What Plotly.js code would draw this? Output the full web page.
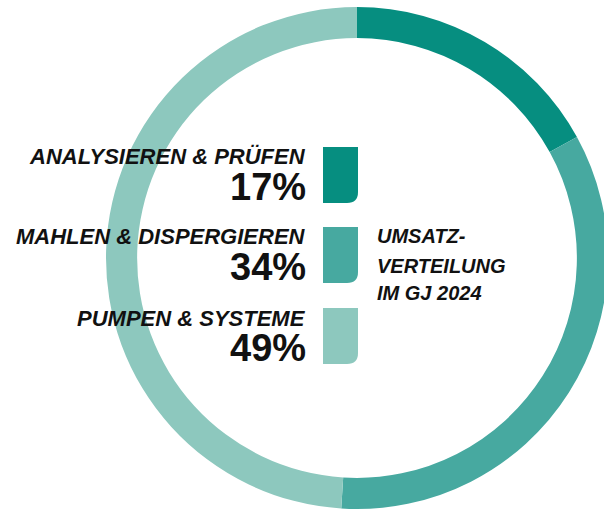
<!DOCTYPE html>
<html>
<head>
<meta charset="utf-8">
<script src="https://cdn.plot.ly/plotly-3.0.1.min.js"></script>
<style>
html,body{margin:0;padding:0;overflow:hidden;background:#fff;width:604px;height:511px;}
#chart{width:620px;height:511px;}
</style>
</head>
<body>
<div id="chart"></div>
<script>
// Data
const categories = ["ANALYSIEREN & PRÜFEN", "MAHLEN & DISPERGIEREN", "PUMPEN & SYSTEME"];
const shares = [17, 34, 49];
const percentLabels = ["17%", "34%", "49%"];
const colors = ["#068E80", "#47A9A0", "#8DC8BE"];
const centerLines = ["UMSATZ-", "VERTEILUNG", "IM GJ 2024"];

const W = 620, H = 511;
const px = x => x / W;
const py = y => 1 - y / H;

const trace = {
  type: "pie",
  values: shares,
  labels: categories,
  marker: {colors: colors, line: {width: 0}},
  sort: false,
  direction: "clockwise",
  rotation: 0,
  hole: 0.876,
  textinfo: "none",
  hoverinfo: "none",
  showlegend: false,
  domain: {x: [px(106), px(608)], y: [py(509), py(7)]}
};

const labelFont = {family: "Liberation Sans, Arial, sans-serif", size: 22, color: "#111"};
const pctFont = {family: "Liberation Sans, Arial, sans-serif", size: 38, color: "#111"};

const annotations = [];
const shapes = [];
const rowTop = [147, 227, 308];
const rowH = 56;
categories.forEach((c, i) => {
  const t = rowTop[i];
  annotations.push({
    text: "<b><i>" + c + "</i></b>", xref: "paper", yref: "paper",
    x: px(308), y: py(t + 10), xanchor: "right", yanchor: "middle",
    showarrow: false, font: labelFont
  });
  annotations.push({
    text: "<b>" + percentLabels[i] + "</b>", xref: "paper", yref: "paper",
    x: px(308), y: py(t + 40), xanchor: "right", yanchor: "middle",
    showarrow: false, font: pctFont
  });
  const x0 = 323, x1 = 358, y0 = t, y1 = t + rowH, r = 11;
  const path = `M ${px(x0)} ${py(y0)} L ${px(x1)} ${py(y0)} L ${px(x1)} ${py(y1 - r)} ` +
    `Q ${px(x1)} ${py(y1)} ${px(x1 - r)} ${py(y1)} L ${px(x0)} ${py(y1)} Z`;
  shapes.push({type: "path", xref: "paper", yref: "paper", path: path,
    fillcolor: colors[i], line: {width: 0}});
});

const centerY = [235.5, 266, 293];
centerLines.forEach((s, i) => {
  annotations.push({
    text: "<b><i>" + s + "</i></b>", xref: "paper", yref: "paper",
    x: px(375), y: py(centerY[i]), xanchor: "left", yanchor: "middle",
    showarrow: false, font: {family: "Liberation Sans, Arial, sans-serif", size: 20, color: "#111"}
  });
});

const layout = {
  width: W, height: H,
  margin: {l: 0, r: 0, t: 0, b: 0},
  paper_bgcolor: "#fff",
  showlegend: false,
  annotations: annotations,
  shapes: shapes
};

Plotly.newPlot("chart", [trace], layout, {displayModeBar: false, staticPlot: true});
</script>
</body>
</html>
